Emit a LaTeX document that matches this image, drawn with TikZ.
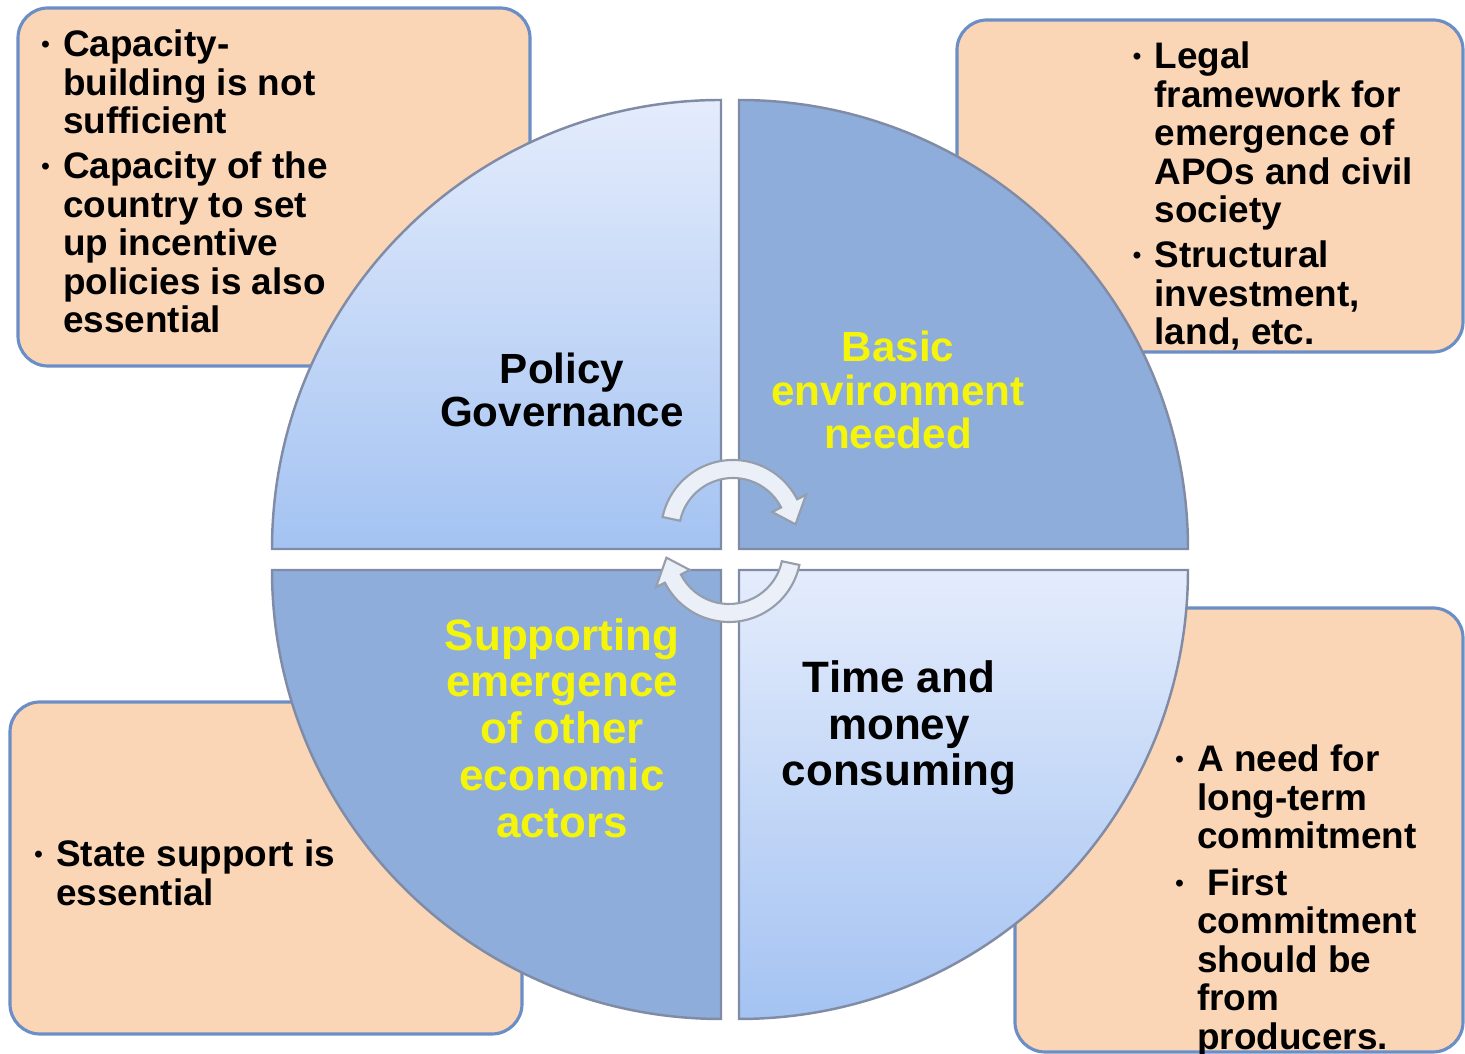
\documentclass[tikz,border=0pt]{standalone}
\usepackage{fontspec}
\setmainfont{Liberation Sans}
\usepackage{xcolor}
\usepackage{tikz}
\usetikzlibrary{positioning}

\definecolor{peach}{RGB}{251,214,182}
\definecolor{boxedge}{RGB}{108,142,198}
\definecolor{quadedge}{RGB}{128,140,165}
\definecolor{lighttop}{RGB}{228,236,252}
\definecolor{lightbot}{RGB}{164,195,242}
\definecolor{steel}{RGB}{143,173,218}
\definecolor{hiyellow}{RGB}{245,245,10}
\definecolor{arrowfill}{RGB}{234,239,248}
\definecolor{arrowedge}{RGB}{150,158,172}

\newcommand{\bulletmark}{\makebox[0.24cm][l]{\hspace{0.06em}\raisebox{0.12em}{\scalebox{0.65}{\textbullet}}}}

\begin{document}
\begin{tikzpicture}[
    notebox/.style={fill=peach, draw=boxedge, line width=0.9pt, rounded corners=0.3cm},
    quad/.style={draw=quadedge, line width=0.7pt},
    note/.style={anchor=base west, inner sep=0pt, font=\fontsize{10.5}{10.95}\selectfont\bfseries},
    qlabel/.style={align=center, inner sep=0pt, font=\fontsize{12}{12.4}\selectfont\bfseries},
    qlabelbig/.style={align=center, inner sep=0pt, font=\fontsize{12.5}{13.3}\selectfont\bfseries},
    cycarrow/.style={fill=arrowfill, draw=arrowedge, line width=0.6pt}]
    \useasboundingbox (0,0) rectangle (14.65,10.54);

    % note boxes behind the circle
    \path[notebox] (0.18,6.88) rectangle (5.30,10.46);
    \path[notebox] (9.57,7.02) rectangle (14.63,10.34);
    \path[notebox] (10.15,0.02) rectangle (14.63,4.46);
    \path[notebox] (0.10,0.20) rectangle (5.22,3.52);

    % the four quarters
    \path[quad, top color=lighttop, bottom color=lightbot] (7.21,5.05) -- (2.72,5.05) arc[start angle=180, end angle=90, radius=4.49] -- cycle;
    \path[quad, fill=steel] (7.39,5.05) -- (7.39,9.54) arc[start angle=90, end angle=0, radius=4.49] -- cycle;
    \path[quad, fill=steel] (7.21,4.84) -- (2.72,4.84) arc[start angle=180, end angle=270, radius=4.49] -- cycle;
    \path[quad, top color=lighttop, bottom color=lightbot] (7.39,4.84) -- (11.88,4.84) arc[start angle=0, end angle=-90, radius=4.49] -- cycle;

    % quarter labels
    \node (policy) at (5.62,6.64) [qlabel] {Policy\\Governance};
    \node (basic) at (8.98,6.64) [qlabel, text=hiyellow] {Basic\\environment\\needed};
    \node (support) at (5.62,3.26) [qlabelbig, text=hiyellow] {Supporting\\emergence\\of other\\economic\\actors};
    \node (time) at (8.99,3.26) [qlabelbig] {Time and\\money\\consuming};

    % cycle arrows
    \begin{scope}[shift={(7.33,5.22)}]
        \path[cycarrow] (168:0.72) arc[start angle=168, end angle=27, radius=0.72] -- (27:0.82) -- (7:0.63) -- (27:0.44) -- (27:0.54) arc[start angle=27, end angle=168, radius=0.54] -- cycle;
    \end{scope}
    \begin{scope}[shift={(7.29,5.04)}, rotate=180]
        \path[cycarrow] (168:0.72) arc[start angle=168, end angle=27, radius=0.72] -- (27:0.82) -- (7:0.63) -- (27:0.44) -- (27:0.54) arc[start angle=27, end angle=168, radius=0.54] -- cycle;
    \end{scope}

    % box texts
    \node (capacity) at (0.385,9.97) [note] {\begin{tabular}[t]{@{}l@{}l@{}}
        \bulletmark & Capacity-\\
        & building is not\\
        & sufficient\\[0.065cm]
        \bulletmark & Capacity of the\\
        & country to set\\
        & up incentive\\
        & policies is also\\
        & essential
    \end{tabular}};
    \node (legal) at (11.30,9.85) [note] {\begin{tabular}[t]{@{}l@{}l@{}}
        \bulletmark & Legal\\
        & framework for\\
        & emergence of\\
        & APOs and civil\\
        & society\\[0.065cm]
        \bulletmark & Structural\\
        & investment,\\
        & land, etc.
    \end{tabular}};
    \node (longterm) at (11.725,2.82) [note] {\begin{tabular}[t]{@{}l@{}l@{}}
        \bulletmark & A need for\\
        & long-term\\
        & commitment\\[0.08cm]
        \bulletmark & \ First\\
        & commitment\\
        & should be\\
        & from\\
        & producers.
    \end{tabular}};
    \node (state) at (0.315,1.87) [note] {\begin{tabular}[t]{@{}l@{}l@{}}
        \bulletmark & State support is\\
        & essential
    \end{tabular}};
\end{tikzpicture}
\end{document}
